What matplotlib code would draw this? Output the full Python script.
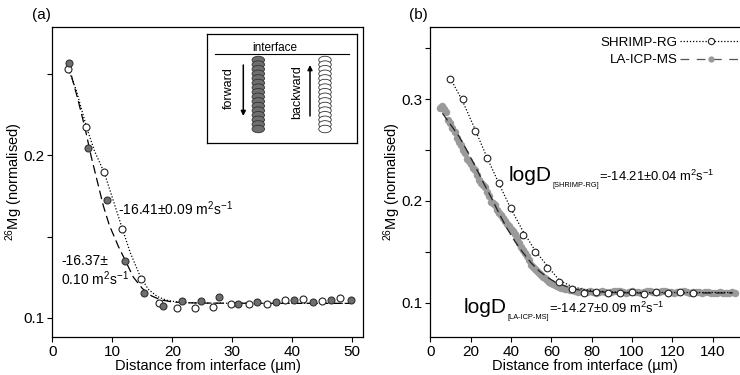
import matplotlib
matplotlib.use("Agg")
import matplotlib.pyplot as plt
from matplotlib.lines import Line2D
from matplotlib.patches import Ellipse
from matplotlib import transforms

plt.rcParams['font.family'] = ['Liberation Sans', 'DejaVu Sans']
plt.rcParams['mathtext.fontset'] = 'custom'
plt.rcParams['mathtext.rm'] = 'Liberation Sans'
plt.rcParams['mathtext.it'] = 'Liberation Sans:italic'
plt.rcParams['mathtext.bf'] = 'Liberation Sans:bold'
plt.rcParams['mathtext.default'] = 'regular'

# ---------------- Panel (a) data ----------------
fwd_x = [2.84, 5.95, 9.07, 12.17, 15.33, 18.4, 21.6, 24.7, 27.8, 30.9, 34.1, 37.2, 40.3, 43.5, 46.4, 49.7]
fwd_y = [0.2571, 0.2046, 0.1725, 0.1351, 0.1150, 0.1074, 0.1100, 0.1100, 0.1127, 0.1084, 0.1096, 0.1099, 0.1107, 0.1096, 0.1107, 0.1107]
bwd_x = [2.6, 5.67, 8.67, 11.67, 14.73, 17.73, 20.8, 23.7, 26.7, 29.8, 32.8, 35.8, 38.8, 41.8, 44.9, 47.9]
bwd_y = [0.2533, 0.2173, 0.1898, 0.1545, 0.1237, 0.1089, 0.1057, 0.1057, 0.1065, 0.1082, 0.1082, 0.1082, 0.1107, 0.1113, 0.1102, 0.1121]
fit_bwd_x = [2.7, 4, 5.7, 7, 8.7, 10, 11.7, 13, 14.7, 16, 17.5, 19, 20.5, 22, 25, 30, 40, 50]
fit_bwd_y = [0.2530, 0.2400, 0.2175, 0.2030, 0.1890, 0.1740, 0.1545, 0.1400, 0.1250, 0.1175, 0.1130, 0.1108,
             0.1098, 0.1093, 0.1090, 0.1089, 0.1088, 0.1088]
fit_fwd_x = [3.2, 4.3, 5.5, 6.5, 7.7, 8.5, 9.5, 11, 12.2, 13.5, 15, 16.5, 18, 20, 22, 25, 30, 40, 50]
fit_fwd_y = [0.2490, 0.2340, 0.2160, 0.1990, 0.1810, 0.1690, 0.1570, 0.1440, 0.1350, 0.1250, 0.1180, 0.1135,
             0.1110, 0.1097, 0.1092, 0.1090, 0.1089, 0.1088, 0.1088]
a_xticks = [0, 10, 20, 30, 40, 50]
a_yticks = [0.1, 0.15, 0.2, 0.25]
a_yticklabels = ['0.1', '', '0.2', '']

# ---------------- Panel (b) data ----------------
shrimp_x = [10, 16, 22, 28, 34, 40, 46, 52, 58, 64, 70, 76, 82, 88, 94, 100, 106, 112, 118, 124, 130]
shrimp_y = [0.3197, 0.3000, 0.2688, 0.2423, 0.2171, 0.1934, 0.1666, 0.1502, 0.1344, 0.1206, 0.1135, 0.1098,
            0.1108, 0.1092, 0.1098, 0.1108, 0.1086, 0.1108, 0.1098, 0.1108, 0.1092]
fit_shrimp_x = [10, 16, 22, 28, 34, 40, 46, 52, 58, 64, 70, 76, 82, 90, 100, 120, 150]
fit_shrimp_y = [0.320, 0.298, 0.271, 0.243, 0.217, 0.192, 0.170, 0.151, 0.136, 0.122, 0.116, 0.113, 0.1115,
                0.1105, 0.110, 0.110, 0.110]
la_x = [5, 6, 7, 8, 9, 10, 11, 12, 13, 14, 15, 16, 17, 18, 19, 20, 21, 22, 23, 24, 25, 26, 27, 28, 29, 30,
        31, 32, 33, 34, 35, 36, 37, 38, 39, 40, 41, 42, 43, 44, 45, 46, 47, 48, 49, 50, 51, 52, 53, 54, 55,
        56, 57, 58, 59, 60, 61, 62, 63, 64, 65, 66, 67, 68, 69, 70,
        71.5, 73, 74.5, 76, 77.5, 79, 80.5, 82, 83.5, 85, 86.5, 88, 89.5, 91, 92.5, 94, 95.5, 97, 98.5, 100,
        101.5, 103, 104.5, 106, 107.5, 109, 110.5, 112, 113.5, 115, 116.5, 118, 119.5, 121, 122.5, 124,
        125.5, 127, 128.5, 130, 131.5, 133, 134.5, 136, 137.5, 139, 140.5, 142, 143.5, 145, 146.5, 148,
        149.5, 151]
la_y = [0.291, 0.293, 0.290, 0.287, 0.279, 0.276, 0.272, 0.268, 0.262, 0.258, 0.255, 0.250, 0.247, 0.241,
        0.239, 0.236, 0.232, 0.230, 0.225, 0.220, 0.218, 0.216, 0.214, 0.209, 0.205, 0.199, 0.198, 0.196,
        0.191, 0.188, 0.186, 0.183, 0.180, 0.177, 0.175, 0.172, 0.170, 0.167, 0.163, 0.159, 0.155, 0.152,
        0.149, 0.146, 0.142, 0.137, 0.135, 0.133, 0.131, 0.129, 0.127, 0.125, 0.124, 0.122, 0.120, 0.119,
        0.118, 0.117, 0.116, 0.115, 0.114, 0.114, 0.113, 0.113, 0.112, 0.112,
        0.1115, 0.1105, 0.1110, 0.1100, 0.1108, 0.1112, 0.1102, 0.1098, 0.1105, 0.1110,
        0.1100, 0.1096, 0.1104, 0.1112, 0.1118, 0.1110, 0.1102, 0.1098, 0.1106, 0.1112,
        0.1104, 0.1100, 0.1096, 0.1104, 0.1110, 0.1115, 0.1108, 0.1100, 0.1104, 0.1110,
        0.1114, 0.1106, 0.1100, 0.1096, 0.1102, 0.1108, 0.1112, 0.1104, 0.1098, 0.1102,
        0.1108, 0.1100, 0.1096, 0.1100, 0.1106, 0.1098, 0.1092, 0.1096, 0.1102, 0.1098,
        0.1094, 0.1098, 0.1102, 0.1096]
fit_la_x = [6, 10, 14, 18, 22, 26, 30, 34, 38, 42, 46, 50, 54, 58, 62, 66, 70, 75, 80, 90, 100, 120, 150]
fit_la_y = [0.286, 0.275, 0.264, 0.250, 0.235, 0.219, 0.204, 0.188, 0.173, 0.160, 0.149, 0.139, 0.131,
            0.125, 0.120, 0.117, 0.114, 0.112, 0.111, 0.110, 0.1095, 0.1095, 0.1095]
b_xticks = [0, 20, 40, 60, 80, 100, 120, 140]
b_yticks = [0.1, 0.15, 0.2, 0.25, 0.3, 0.35]
b_yticklabels = ['0.1', '', '0.2', '', '0.3', '']

W, H = 740, 375
fig = plt.figure(figsize=(W / 100, H / 100), dpi=100)
axa = fig.add_axes([52.3 / W, (H - 337.3) / H, (362.7 - 52.3) / W, 310.6 / H])
axb = fig.add_axes([430.3 / W, (H - 337.3) / H, (W - 430.3) / W, 310.6 / H])
renderer = fig.canvas.get_renderer()

FILL = '#6e6e6e'
GREY = '#9a9a9a'

for ax in (axa, axb):
    for s in ax.spines.values():
        s.set_linewidth(0.9)
    ax.tick_params(direction='out', length=3.5, width=0.8, labelsize=11, pad=2)
    ax.set_xlabel('Distance from interface (µm)', fontsize=10.5, labelpad=0)
    ax.set_ylabel('$^{26}$Mg (normalised)', fontsize=10.5)

# ---- panel a
axa.plot(fit_bwd_x, fit_bwd_y, ls=(0, (1, 1.5)), color='k', lw=0.9, zorder=2)
axa.plot(fit_fwd_x, fit_fwd_y, ls=(0, (7, 3.5)), color='k', lw=0.9, zorder=2)
axa.plot(bwd_x, bwd_y, 'o', ms=5, mfc='white', mec='#222222', mew=0.8, ls='none', zorder=3)
axa.plot(fwd_x, fwd_y, 'o', ms=5, mfc=FILL, mec='#333333', mew=0.8, ls='none', zorder=3)
axa.set_xlim(0, 51.73)
axa.set_ylim(0.0879, 0.2793)
axa.set_xticks(a_xticks)
axa.set_yticks(a_yticks)
axa.set_yticklabels(a_yticklabels)
axa.yaxis.set_label_coords(-0.088, 0.5)
axa.text(11.0, 0.167, '-16.41±0.09 m$^2$s$^{-1}$', fontsize=10, va='center', ha='left')
axa.text(1.45, 0.1349, '-16.37±', fontsize=10, va='center', ha='left')
axa.text(1.45, 0.1240, '0.10 m$^2$s$^{-1}$', fontsize=10, va='center', ha='left')

# inset schematic
ins = fig.add_axes([206.7 / W, (H - 143) / H, 150.3 / W, 109 / H])
ins.set_xlim(0, 150.3)
ins.set_ylim(109, 0)
ins.set_xticks([])
ins.set_yticks([])
for s in ins.spines.values():
    s.set_linewidth(0.9)
ins.text(68.3, 14.3, 'interface', fontsize=8.5, ha='center', va='center')
ins.plot([8.3, 142.3], [20.3, 20.3], color='k', lw=0.8)
n_beads = 16
for i in range(n_beads):
    cy = 26 + i * 4.6
    ins.add_patch(Ellipse((51.6, cy), 12.5, 7.5, facecolor=FILL, edgecolor='#333333', lw=0.6))
    ins.add_patch(Ellipse((118.3, cy), 12.5, 7.5, facecolor='white', edgecolor='#333333', lw=0.6))
ins.annotate('', xy=(36.6, 82), xytext=(36.6, 31),
             arrowprops=dict(arrowstyle='-|>', color='k', lw=1.1, mutation_scale=7, shrinkA=0, shrinkB=0))
ins.annotate('', xy=(103.3, 31), xytext=(103.3, 82),
             arrowprops=dict(arrowstyle='-|>', color='k', lw=1.1, mutation_scale=7, shrinkA=0, shrinkB=0))
ins.text(21.6, 54.3, 'forward', fontsize=9, rotation=90, ha='center', va='center')
ins.text(90, 57.7, 'backward', fontsize=9, rotation=90, ha='center', va='center')

# ---- panel b
axb.plot(la_x, la_y, 'o', ms=5.4, mfc=GREY, mec=GREY, mew=0, ls='none', zorder=2)
axb.plot(fit_la_x, fit_la_y, ls=(0, (7, 3.5)), color='#222222', lw=0.9, zorder=3)
axb.plot(fit_shrimp_x, fit_shrimp_y, ls=(0, (1, 1.5)), color='k', lw=0.9, zorder=3)
axb.plot(shrimp_x, shrimp_y, 'o', ms=4.8, mfc='white', mec='#222222', mew=0.8, ls='none', zorder=4)
axb.set_xlim(0, 153.5)
axb.set_ylim(0.066, 0.371)
axb.set_xticks(b_xticks)
axb.set_yticks(b_yticks)
axb.set_yticklabels(b_yticklabels)
axb.spines['right'].set_visible(False)
axb.yaxis.set_label_coords(-0.088, 0.5)


def chain(ax, x, y, parts):
    """Place text pieces one after another, starting at data point (x, y) baseline."""
    dx = 0.0
    for s, size, dy, gap in parts:
        dx += gap
        tr = transforms.offset_copy(ax.transData, fig=fig, x=dx, y=dy, units='dots')
        t = ax.text(x, y, s, fontsize=size, transform=tr, va='baseline', ha='left')
        dx += t.get_window_extent(renderer).width


chain(axb, 38.7, 0.219, [('logD', 15, 0, 0), ('[SHRIMP-RG]', 5.3, -5.6, 1),
                          ('=-14.21±0.04 m$^2$s$^{-1}$', 9.4, 0, 0)])
chain(axb, 16.4, 0.0902, [('logD', 15, 0, 0), ('[LA-ICP-MS]', 5.3, -6.2, 1),
                           ('=-14.27±0.09 m$^2$s$^{-1}$', 9.4, 0, 0)])

h1 = Line2D([], [], ls=(0, (1, 1.5)), color='k', lw=0.9, marker='o', ms=4.5, mfc='white', mec='#222222', mew=0.8)
h2 = Line2D([], [], ls=(0, (7, 6)), color='#555555', lw=0.9, marker='o', ms=4.5, mfc=GREY, mec=GREY, mew=0)
axb.legend([h1, h2], ['SHRIMP-RG', 'LA-ICP-MS'], loc='upper right', bbox_to_anchor=(1.037, 1.0),
           markerfirst=False, frameon=False, fontsize=9.6, handlelength=4.6, handletextpad=0.2,
           borderaxespad=0.5, borderpad=0.25, labelspacing=0.38)

fig.text(32 / W, 1 - 15 / H, '(a)', fontsize=11, ha='left', va='center')
fig.text(409 / W, 1 - 15 / H, '(b)', fontsize=11, ha='left', va='center')

fig.savefig('out.png', dpi=100)
